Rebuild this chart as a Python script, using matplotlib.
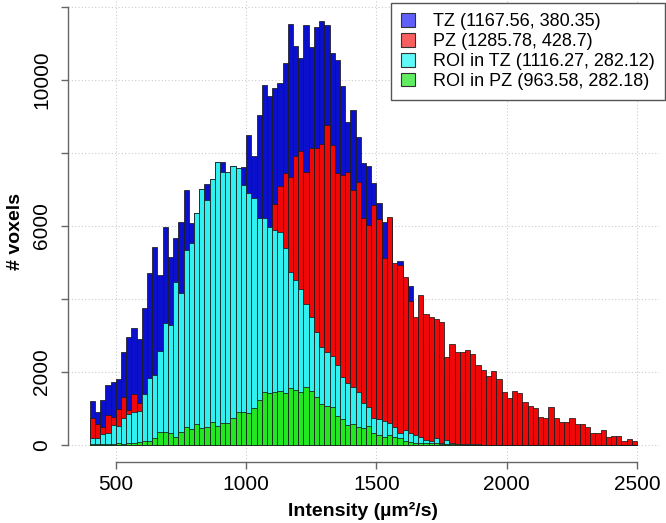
import numpy as np
import matplotlib
matplotlib.use('Agg')
import matplotlib.pyplot as plt
from matplotlib.patches import Patch

plt.rcParams['font.family'] = ['Liberation Sans', 'DejaVu Sans']

# histogram bins: 400..2500, width 20
bin_start = 400
bin_width = 20

tz = [1215, 913, 1233, 1653, 1735, 1817, 2557, 2968, 3196, 2895,
      3744, 4703, 5416, 4670, 5970, 5150, 5670, 6120, 6990, 6080,
      6350, 7000, 7150, 7290, 7750, 7750, 7470, 7650, 7580, 7620,
      8490, 7918, 9041, 9863, 9562, 9772, 9927, 10475, 11534, 10932,
      10594, 11507, 10913, 11461, 11626, 11500, 10731, 10548, 9836, 8858,
      9178, 8447, 7717, 7653, 7169, 6621, 6119, 6200, 4900, 5050,
      4550, 4356, 3300, 3000, 2750, 2500, 2250, 2050, 1850, 1650,
      1480, 1320, 1180, 1050, 930, 820, 720, 630, 550, 480,
      420, 365, 315, 270, 230, 200, 170, 145, 125, 105,
      90, 75, 65, 55, 45, 38, 32, 27, 22, 18,
      15, 12, 10, 8, 6]

pz = [750, 575, 500, 820, 775, 995, 1324, 960, 1397, 1160,
      1300, 1450, 1600, 1750, 1900, 2050, 2200, 2400, 2600, 2800,
      3000, 3200, 3400, 3600, 3800, 4000, 4200, 4400, 4600, 4800,
      5000, 5200, 5400, 5600, 5800, 6603, 7096, 7461, 7333, 7918,
      8064, 7489, 8128, 8128, 8247, 8767, 8219, 7443, 7397, 7489,
      6986, 7215, 6210, 6027, 6575, 6183, 5114, 6237, 4977, 4932,
      4594, 3954, 3498, 4110, 3589, 3498, 3443, 3379, 2420, 2767,
      2557, 2557, 2603, 2493, 2192, 2055, 1890, 2037, 1799, 1461,
      1297, 1479, 1416, 1187, 1078, 1023, 776, 731, 1032, 749,
      639, 621, 749, 575, 575, 484, 338, 320, 411, 210,
      247, 247, 119, 164, 110]

roi_tz = [183, 183, 300, 320, 548, 520, 730, 850, 913, 930,
          1388, 1826, 1918, 2584, 3350, 3300, 4470, 4170, 5340, 5540,
          6350, 7000, 6710, 7290, 7750, 7490, 7470, 7650, 7580, 7110,
          6900, 6758, 6210, 6210, 5982, 5890, 5845, 5388, 4749, 4521,
          4265, 3863, 3516, 3105, 2694, 2550, 2438, 2192, 1872, 1708,
          1598, 1461, 1142, 1050, 731, 703, 667, 594, 484, 338,
          411, 338, 274, 210, 137, 119, 183, 64, 137, 46,
          30, 25, 22, 18, 15, 12, 10, 8, 6, 5,
          4, 3, 3, 2, 2, 1, 1, 0, 0, 0,
          0, 0, 0, 0, 0, 0, 0, 0, 0, 0,
          0, 0, 0, 0, 0]

roi_pz = [27, 18, 27, 27, 36, 45, 36, 45, 64, 91,
          110, 120, 200, 365, 360, 320, 210, 365, 484, 430,
          575, 475, 484, 640, 530, 594, 612, 730, 913, 895,
          880, 1005, 1233, 1461, 1416, 1461, 1489, 1416, 1553, 1507,
          1461, 1580, 1489, 1324, 1123, 1080, 1050, 795, 703, 548,
          575, 502, 457, 520, 320, 274, 228, 274, 228, 183,
          105, 91, 64, 64, 46, 46, 46, 27, 27, 18,
          15, 12, 10, 8, 7, 6, 5, 4, 3, 3,
          2, 2, 1, 1, 0, 0, 0, 0, 0, 0,
          0, 0, 0, 0, 0, 0, 0, 0, 0, 0,
          0, 0, 0, 0, 0]

labels = ['TZ (1167.56, 380.35)', 'PZ (1285.78, 428.7)',
          'ROI in TZ (1116.27, 282.12)', 'ROI in PZ (963.58, 282.18)']
bar_colors = ['#0a10cc', '#f00808', '#30f0f0', '#22e622']
legend_colors = ['#6060f8', '#f86060', '#60f8f8', '#60ee60']

edges = bin_start + bin_width * np.arange(len(tz))

fig = plt.figure(figsize=(6.66, 5.23), dpi=100)
ax = fig.add_axes([0.1018, 0.1157, 0.8877, 0.8843])

for vals, col in zip([tz, pz, roi_tz, roi_pz], bar_colors):
    ax.bar(edges, vals, width=bin_width, align='edge', color=col,
           edgecolor='#1a1a1a', linewidth=0.55, zorder=2)

ax.set_xlim(316, 2584)
ax.set_ylim(-480, 12192)

ax.set_xticks([500, 1000, 1500, 2000, 2500])
ax.set_yticks([0, 2000, 4000, 6000, 8000, 10000, 12000])
ax.set_yticklabels(['0', '2000', '', '6000', '', '10000', ''],
                   rotation=90, va='center')
ax.grid(True, linestyle=(0, (1, 2)), color='#cccccc', linewidth=0.8, zorder=0)
ax.set_axisbelow(True)

for s in ['top', 'right']:
    ax.spines[s].set_visible(False)
ax.spines['left'].set_bounds(0, 12000)
ax.spines['bottom'].set_bounds(500, 2500)
for s in ['left', 'bottom']:
    ax.spines[s].set_color('#666666')
    ax.spines[s].set_linewidth(1.0)
ax.tick_params(axis='both', colors='#666666', labelcolor='black',
               labelsize=15, length=5, width=1.0)
ax.tick_params(axis='x', pad=4)
ax.tick_params(axis='y', pad=7)

ax.set_xlabel('Intensity (µm²/s)', fontsize=14, fontweight='bold', labelpad=6)
ax.set_ylabel('# voxels', fontsize=14, fontweight='bold', labelpad=6)

handles = [Patch(facecolor=c, edgecolor='#333333', linewidth=0.8)
           for c in legend_colors]
leg = ax.legend(handles, labels, loc='upper right',
                bbox_to_anchor=(665 / 666, 1 - 3 / 523),
                bbox_transform=fig.transFigure, fontsize=13,
                fancybox=False, framealpha=1, edgecolor='#555555',
                borderaxespad=0, handlelength=0.8, handleheight=0.8,
                handletextpad=1.0, labelspacing=0.15, borderpad=0.55)
leg.get_frame().set_linewidth(1.0)

fig.savefig('out.png', dpi=100)
